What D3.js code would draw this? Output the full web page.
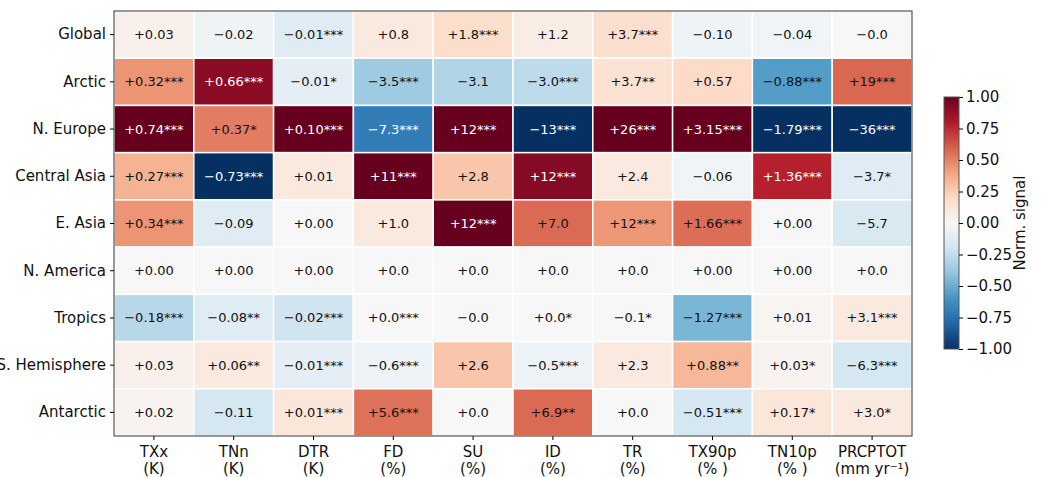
<!DOCTYPE html>
<html>
<head>
<meta charset="utf-8">
<script src="https://cdn.jsdelivr.net/npm/d3@7"></script>
<style>
  body { margin: 0; background: #fff; }
  svg { font-family: "DejaVu Sans", sans-serif; }
</style>
</head>
<body>
<div id="chart"></div>
<script>
'use strict';

var regions = ['Global', 'Arctic', 'N. Europe', 'Central Asia', 'E. Asia', 'N. America', 'Tropics', 'S. Hemisphere', 'Antarctic'];
var indices = ['TXx', 'TNn', 'DTR', 'FD', 'SU', 'ID', 'TR', 'TX90p', 'TN10p', 'PRCPTOT'];
var units = ['(K)', '(K)', '(K)', '(%)', '(%)', '(%)', '(%)', '(% )', '(% )', '(mm yr\u207B\u00B9)'];

// normalised signal (colour), one row per region
var norm = [
	[0.05, -0.05, -0.12, 0.10, 0.18, 0.08, 0.17, -0.05, -0.03, 0.00],
	[0.45, 0.90, -0.10, -0.36, -0.30, -0.26, 0.15, 0.20, -0.56, 0.58],
	[1.00, 0.52, 1.00, -0.70, 1.00, -1.00, 1.00, 1.00, -1.00, -1.00],
	[0.35, -1.00, 0.10, 1.00, 0.28, 0.92, 0.10, -0.03, 0.78, -0.12],
	[0.45, -0.12, 0.00, 0.10, 1.00, 0.57, 0.44, 0.56, 0.00, -0.16],
	[0.00, 0.00, 0.00, 0.00, 0.00, 0.00, 0.00, 0.00, 0.00, 0.00],
	[-0.28, -0.12, -0.20, 0.00, 0.00, 0.00, 0.00, -0.46, 0.02, 0.10],
	[0.05, 0.10, -0.10, -0.06, 0.28, -0.06, 0.10, 0.33, 0.03, -0.18],
	[0.03, -0.18, 0.12, 0.55, 0.00, 0.57, 0.00, -0.18, 0.12, 0.10]
];

// annotation text shown in each cell
var labels = [
	['+0.03', '\u22120.02', '\u22120.01***', '+0.8', '+1.8***', '+1.2', '+3.7***', '\u22120.10', '\u22120.04', '\u22120.0'],
	['+0.32***', '+0.66***', '\u22120.01*', '\u22123.5***', '\u22123.1', '\u22123.0***', '+3.7**', '+0.57', '\u22120.88***', '+19***'],
	['+0.74***', '+0.37*', '+0.10***', '\u22127.3***', '+12***', '\u221213***', '+26***', '+3.15***', '\u22121.79***', '\u221236***'],
	['+0.27***', '\u22120.73***', '+0.01', '+11***', '+2.8', '+12***', '+2.4', '\u22120.06', '+1.36***', '\u22123.7*'],
	['+0.34***', '\u22120.09', '+0.00', '+1.0', '+12***', '+7.0', '+12***', '+1.66***', '+0.00', '\u22125.7'],
	['+0.00', '+0.00', '+0.00', '+0.0', '+0.0', '+0.0', '+0.0', '+0.00', '+0.00', '+0.0'],
	['\u22120.18***', '\u22120.08**', '\u22120.02***', '+0.0***', '\u22120.0', '+0.0*', '\u22120.1*', '\u22121.27***', '+0.01', '+3.1***'],
	['+0.03', '+0.06**', '\u22120.01***', '\u22120.6***', '+2.6', '\u22120.5***', '+2.3', '+0.88**', '+0.03*', '\u22126.3***'],
	['+0.02', '\u22120.11', '+0.01***', '+5.6***', '+0.0', '+6.9**', '+0.0', '\u22120.51***', '+0.17*', '+3.0*']
];

var cbTicks = [1.00, 0.75, 0.50, 0.25, 0.00, -0.25, -0.50, -0.75, -1.00];

// RdBu_r palette stops (from -1 to 1)
var palette = ['#053061', '#2166ac', '#4393c3', '#92c5de', '#d1e5f0', '#f7f7f7',
	'#fddbc7', '#f4a582', '#d6604d', '#b2182b', '#67001f'];

var W = 1042, H = 477;
var margin = {top: 11, left: 114, right: 130, bottom: 41};
var width = 912 - margin.left;
var height = 436 - margin.top;

var svg = d3.select('#chart').append('svg')
	.attr('width', W)
	.attr('height', H);

var g = svg.append('g')
	.attr('transform', 'translate(' + margin.left + ',' + margin.top + ')');

var x = d3.scaleBand().domain(indices).range([0, width]);
var y = d3.scaleBand().domain(regions).range([0, height]);

var color = d3.scaleLinear()
	.domain(d3.range(-1, 1.0001, 0.2))
	.range(palette)
	.interpolate(d3.interpolateRgb)
	.clamp(true);

var cells = [];
norm.forEach(function(row, i){
	row.forEach(function(v, j){
		cells.push({r: regions[i], c: indices[j], v: v, t: labels[i][j]});
	});
});

g.selectAll('rect.cell').data(cells).enter()
	.append('rect')
	.attr('class', 'cell')
	.attr('x', function(d){ return x(d.c); })
	.attr('y', function(d){ return y(d.r); })
	.attr('width', x.bandwidth())
	.attr('height', y.bandwidth())
	.attr('fill', function(d){ return color(d.v); })
	.attr('stroke', '#fff')
	.attr('stroke-width', 1.5);

g.selectAll('text.cell').data(cells).enter()
	.append('text')
	.attr('class', 'cell')
	.attr('x', function(d){ return x(d.c) + x.bandwidth() / 2; })
	.attr('y', function(d){ return y(d.r) + y.bandwidth() / 2; })
	.attr('dy', '0.35em')
	.attr('text-anchor', 'middle')
	.attr('font-size', 13)
	.attr('fill', function(d){ return Math.abs(d.v) > 0.65 ? '#fff' : '#111'; })
	.text(function(d){ return d.t; });

// frame
g.append('rect')
	.attr('width', width)
	.attr('height', height)
	.attr('fill', 'none')
	.attr('stroke', '#555')
	.attr('stroke-width', 1.2);

// y axis
var yAxis = g.append('g').call(d3.axisLeft(y).tickSize(4).tickPadding(4));
yAxis.select('.domain').remove();
yAxis.selectAll('text').attr('font-size', 15).attr('fill', '#111').attr('font-family', '"DejaVu Sans", sans-serif');

// x axis, two-line labels
var xAxis = g.append('g')
	.attr('transform', 'translate(0,' + height + ')')
	.call(d3.axisBottom(x).tickSize(4).tickFormat(''));
xAxis.select('.domain').remove();
xAxis.selectAll('.tick').each(function(d, i){
	var t = d3.select(this).append('text')
		.attr('fill', '#111')
		.attr('font-size', 15)
		.attr('text-anchor', 'middle')
		.attr('font-family', '"DejaVu Sans", sans-serif');
	t.append('tspan').attr('x', 0).attr('y', 21).text(d);
	t.append('tspan').attr('x', 0).attr('y', 38).text(units[i]);
});

// colour bar
var cbX = 944, cbW = 15, cbTop = 97, cbBot = 349;
var cy = d3.scaleLinear().domain([-1, 1]).range([cbBot, cbTop]);

var defs = svg.append('defs');
var grad = defs.append('linearGradient')
	.attr('id', 'cbgrad')
	.attr('x1', 0).attr('y1', 1).attr('x2', 0).attr('y2', 0);
palette.forEach(function(c, i){
	grad.append('stop')
		.attr('offset', i / (palette.length - 1))
		.attr('stop-color', c);
});

svg.append('rect')
	.attr('x', cbX).attr('y', cbTop)
	.attr('width', cbW).attr('height', cbBot - cbTop)
	.attr('fill', 'url(#cbgrad)')
	.attr('stroke', '#555')
	.attr('stroke-width', 1);

var cbAxis = svg.append('g')
	.attr('transform', 'translate(' + (cbX + cbW) + ',0)')
	.call(d3.axisRight(cy).tickValues(cbTicks).tickSize(4).tickPadding(3)
		.tickFormat(function(d){ return d3.format('.2f')(d).replace('-', '\u2212'); }));
cbAxis.select('.domain').remove();
cbAxis.selectAll('text').attr('font-size', 15).attr('fill', '#111').attr('font-family', '"DejaVu Sans", sans-serif');

svg.append('text')
	.attr('transform', 'translate(1025,' + ((cbTop + cbBot) / 2) + ') rotate(-90)')
	.attr('text-anchor', 'middle')
	.attr('font-size', 15)
	.attr('fill', '#111')
	.text('Norm. signal');
</script>
</body>
</html>
